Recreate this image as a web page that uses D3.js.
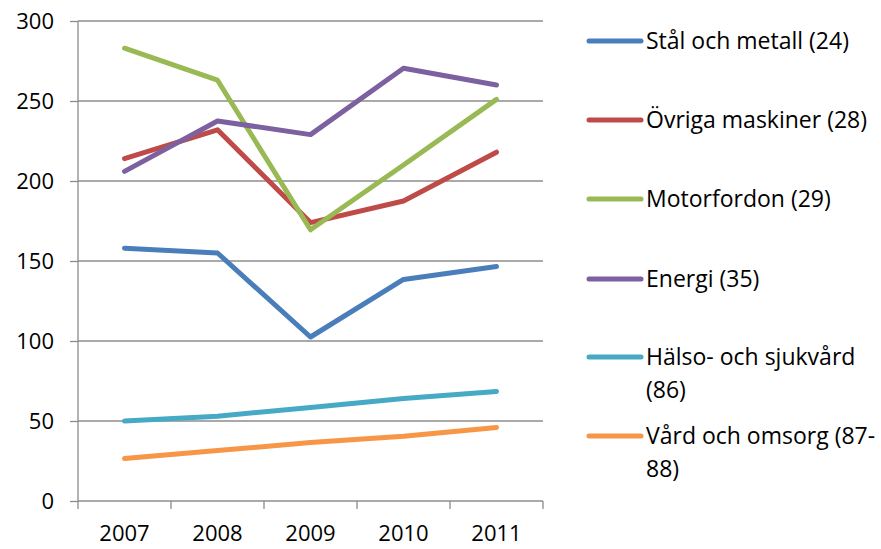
<!DOCTYPE html>
<html><head><meta charset="utf-8">
<script src="https://cdn.jsdelivr.net/npm/d3@7"></script>
<style>
body{margin:0;background:#fff;}
text{font-family:"Open Sans","Noto Sans",sans-serif;fill:#000;}
</style></head>
<body><svg id="c" width="881" height="549"></svg>
<script>
const years = ["2007","2008","2009","2010","2011"];
const yTicks = [0,50,100,150,200,250,300];
const seriesNames = ["Stål och metall (24)","Övriga maskiner (28)","Motorfordon (29)","Energi (35)","Hälso- och sjukvård (86)","Vård och omsorg (87-88)"];
const legendLines = [["Stål och metall (24)"],["Övriga maskiner (28)"],["Motorfordon (29)"],["Energi (35)"],["Hälso- och sjukvård","(86)"],["Vård och omsorg (87-","88)"]];
const stal = [158, 155, 102.5, 138.5, 146.5];
const ovriga = [214, 232, 174, 187.5, 218];
const motor = [283, 263, 169.5, 210, 251];
const energi = [206, 237.5, 229, 270.5, 260];
const halso = [50, 53, 58.5, 64, 68.5];
const vard = [26.5, 31.5, 36.5, 40.5, 46];
const colors = ["#4a7ebb","#be4b48","#98b954","#7d60a0","#46aac5","#f79646"];
const allSeries = [stal, ovriga, motor, energi, halso, vard];

const FS = "22px";
const svg = d3.select("#c");
const L = 78, R = 543, T = 21, B = 501;
const x = d3.scaleBand().domain(years).range([L, R]);
const y = d3.scaleLinear().domain([0, 300]).range([B, T]);

// gridlines
svg.append("g").selectAll("line").data(yTicks.filter(d=>d>0)).join("line")
  .attr("x1", L).attr("x2", R).attr("y1", d=>y(d)).attr("y2", d=>y(d))
  .attr("stroke", "#8c8c8c").attr("stroke-width", 1.3);

// y axis
const ya = svg.append("g").attr("transform", `translate(${L},0)`)
  .call(d3.axisLeft(y).tickValues(yTicks).tickSize(8).tickPadding(16));
ya.attr("font-size", null).attr("font-family", null);
ya.select(".domain").attr("stroke", "#8c8c8c").attr("stroke-width", 1.3).attr("d", `M0,${T}V${B}`);
ya.selectAll(".tick line").attr("stroke", "#8c8c8c").attr("stroke-width", 1.3);
ya.selectAll("text").style("font-size", FS).attr("fill","#000");

// x axis
const xa = svg.append("g").attr("transform", `translate(0,${B})`)
  .call(d3.axisBottom(x).tickSize(0).tickPadding(24));
xa.attr("font-size", null).attr("font-family", null);
xa.select(".domain").attr("stroke", "#8c8c8c").attr("stroke-width", 1.3).attr("d", `M${L},0H${R}`);
xa.selectAll("text").style("font-size", FS).attr("fill","#000");
const bounds = years.map(d => x(d)).concat([R]);
xa.selectAll(".sep").data(bounds).join("line").attr("class","sep")
  .attr("x1", d=>d).attr("x2", d=>d).attr("y1", 0).attr("y2", 8)
  .attr("stroke", "#8c8c8c").attr("stroke-width", 1.3);

// lines
const line = d3.line().x((d,i)=>x(years[i]) + x.bandwidth()/2).y(d=>y(d));
svg.append("g").selectAll("path").data(allSeries).join("path")
  .attr("d", d=>line(d)).attr("fill","none")
  .attr("stroke", (d,i)=>colors[i]).attr("stroke-width", 5)
  .attr("stroke-linejoin","round").attr("stroke-linecap","round");

// legend
const legY = [41, 120, 199, 279, 357, 436];
const lg = svg.append("g");
legendLines.forEach((lines, i) => {
  lg.append("line").attr("x1", 589).attr("x2", 641).attr("y1", legY[i]).attr("y2", legY[i])
    .attr("stroke", colors[i]).attr("stroke-width", 5).attr("stroke-linecap","round");
  const t = lg.append("text").attr("x", 646).attr("y", legY[i] + 8).style("font-size", "23px");
  lines.forEach((s, j) => t.append("tspan").attr("x", 646).attr("dy", j ? 33 : 0).text(s));
});
</script></body></html>
